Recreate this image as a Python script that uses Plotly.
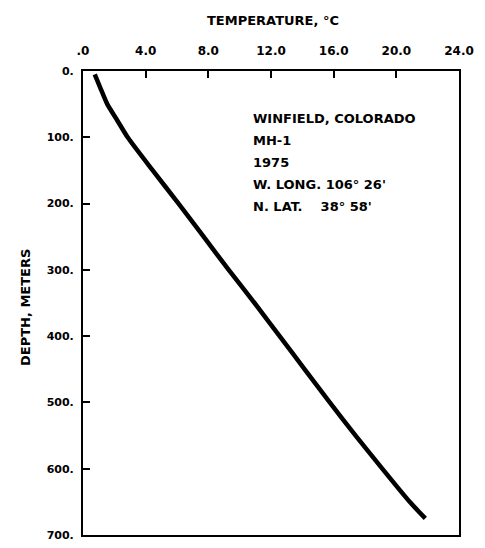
import plotly.graph_objects as go

depth_m = [5, 25, 50, 75, 100, 150, 200, 250, 300, 350, 400, 450, 500, 550, 600, 650, 675]
temp_c = [0.75, 1.1, 1.55, 2.2, 2.85, 4.45, 6.1, 7.7, 9.3, 10.95, 12.55, 14.15, 15.75, 17.4, 19.1, 20.85, 21.85]

x_tickvals = [0, 4, 8, 12, 16, 20, 24]
x_ticktext = [".0", "4.0", "8.0", "12.0", "16.0", "20.0", "24.0"]
y_tickvals = [0, 100, 200, 300, 400, 500, 600, 700]
y_ticktext = ["0.", "100.", "200.", "300.", "400.", "500.", "600.", "700."]

info_lines = ["WINFIELD, COLORADO", "MH-1", "1975", "W. LONG. 106° 26'", "N. LAT.    38° 58'"]

FONT = dict(family="DejaVu Sans", size=12, color="black", weight="bold")
YFONT = dict(family="DejaVu Sans", size=11, color="black", weight="bold")
TFONT = dict(family="DejaVu Sans", size=13, color="black", weight="bold")

fig = go.Figure()
fig.add_trace(go.Scatter(x=temp_c, y=depth_m, mode="lines",
                         line=dict(color="black", width=4.5, shape="spline", smoothing=0.6),
                         showlegend=False, hoverinfo="skip"))

fig.update_layout(
    width=485, height=548,
    margin=dict(l=83, r=26, t=71, b=6),
    paper_bgcolor="white", plot_bgcolor="white",
    font=FONT,
    xaxis=dict(range=[0, 24], side="top", tickvals=x_tickvals, ticktext=x_ticktext,
               ticks="inside", ticklen=7, tickwidth=2, tickcolor="black",
               showline=True, linecolor="black", linewidth=2, mirror=True,
               showgrid=False, zeroline=False, tickfont=FONT, ticklabelstandoff=9),
    yaxis=dict(range=[700, 0], tickvals=y_tickvals, ticktext=y_ticktext,
               ticks="inside", ticklen=7, tickwidth=2, tickcolor="black",
               showline=True, linecolor="black", linewidth=2, mirror=True,
               showgrid=False, zeroline=False, tickfont=YFONT, ticklabelstandoff=5),
)

fig.add_annotation(text="TEMPERATURE, °C", xref="paper", yref="paper",
                   x=(273 - 83) / 376, y=1, yshift=51, showarrow=False, font=TFONT,
                   xanchor="center", yanchor="middle")
fig.add_annotation(text="DEPTH, METERS", xref="paper", yref="paper",
                   x=0, xshift=-58, y=1, yshift=-(308 - 71), textangle=-90, showarrow=False,
                   font=TFONT, xanchor="center", yanchor="middle")

for i, line in enumerate(info_lines):
    fig.add_annotation(text=line, xref="paper", yref="paper",
                       x=(251 - 83) / 376, y=1, yshift=-(118 - 71) - i * 22,
                       showarrow=False, font=TFONT, xanchor="left", yanchor="middle")

fig.write_html("out.html")
